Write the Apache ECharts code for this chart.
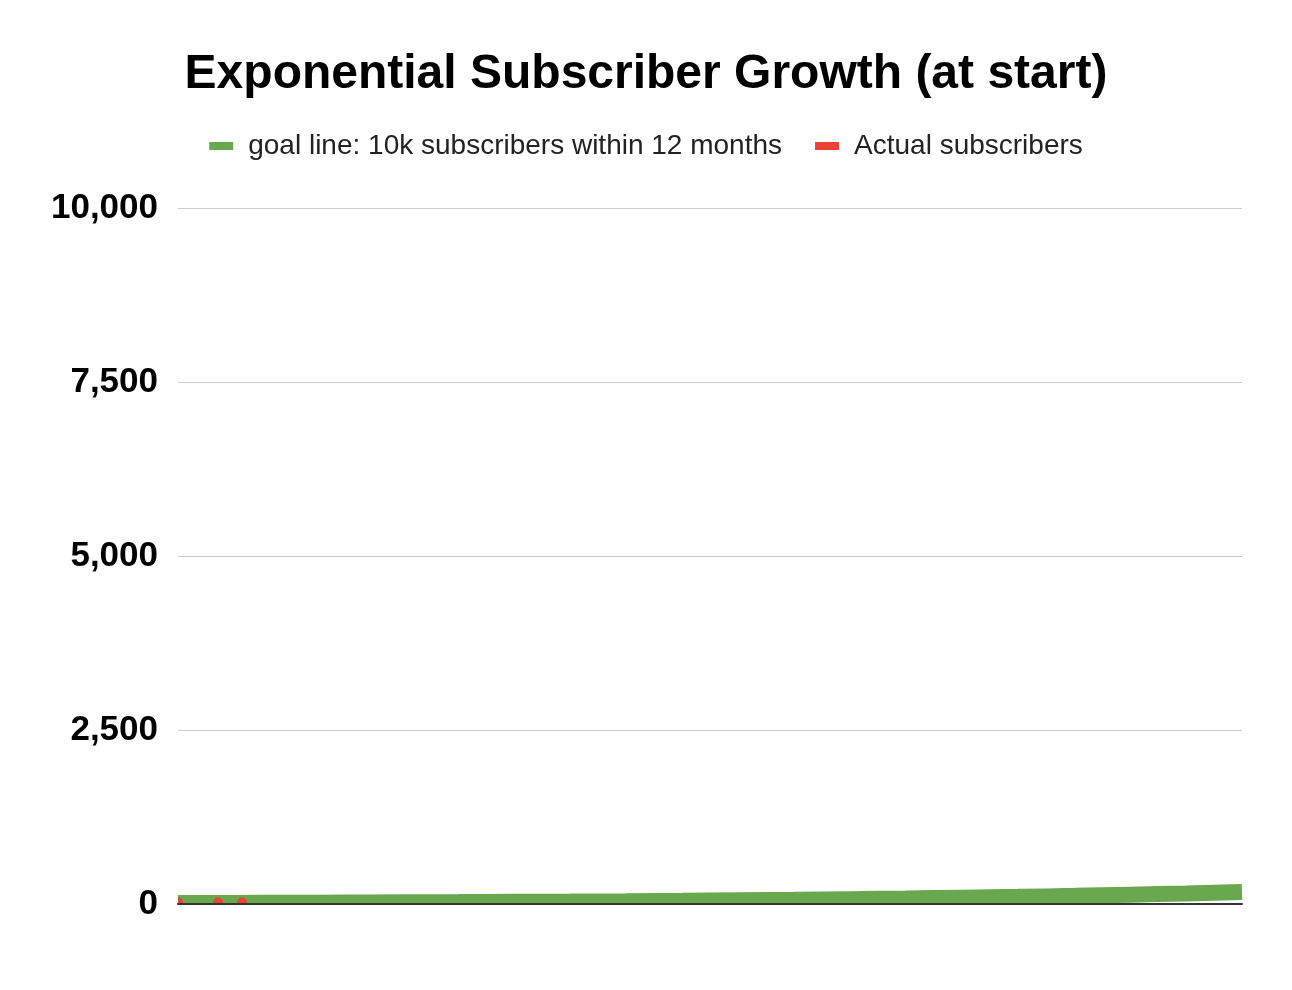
<!DOCTYPE html>
<html>
<head>
<meta charset="utf-8">
<script src="https://cdn.jsdelivr.net/npm/echarts@6/dist/echarts.min.js"></script>
<style>
html,body{margin:0;padding:0;background:#fff;}
#chart{width:1292px;height:990px;}
</style>
</head>
<body>
<div id="chart"></div>
<script>
// Day index since start
const goalDays = [0, 7, 14, 21, 28, 35, 42, 49, 56, 63, 70, 77, 84, 91, 98, 105, 112, 119, 126, 133];
// goal line: 10k subscribers within 12 months
const goalValues = [14, 16, 18, 21, 24, 27, 31, 35, 40, 46, 53, 60, 69, 79, 91, 103, 117, 134, 152, 173];
// Actual subscribers
const actualDays = [0, 5, 8];
const actualValues = [20, 20, 20];
const yTicks = { min: 0, max: 10000, interval: 2500 };

const FONT = "'Liberation Sans', Arial, sans-serif";
const GRID = { left: 178, right: 50, top: 208, bottom: 86 };

const chart = echarts.init(document.getElementById('chart'), null, { renderer: 'canvas' });
chart.setOption({
  animation: false,
  backgroundColor: '#ffffff',
  title: {
    text: 'Exponential Subscriber Growth (at start)',
    left: 'center',
    top: 46,
    textStyle: { fontFamily: FONT, fontSize: 48, fontWeight: 'bold', color: '#000000' }
  },
  legend: {
    top: 127,
    left: 'center',
    icon: 'rect',
    itemWidth: 24,
    itemHeight: 8,
    itemGap: 33,
    textStyle: { fontFamily: FONT, fontSize: 28, color: '#222222', padding: [0, 0, 0, 10] },
    data: ['goal line: 10k subscribers within 12 months', 'Actual subscribers']
  },
  grid: GRID,
  xAxis: {
    type: 'value',
    min: goalDays[0],
    max: goalDays[goalDays.length - 1],
    z: 101,
    axisLine: { show: true, onZero: true, lineStyle: { color: '#333333', width: 2 } },
    axisTick: { show: false },
    axisLabel: { show: false },
    splitLine: { show: false }
  },
  yAxis: {
    type: 'value',
    min: yTicks.min,
    max: yTicks.max,
    interval: yTicks.interval,
    axisLine: { show: false },
    axisTick: { show: false },
    axisLabel: {
      margin: 20,
      padding: [4, 0, 0, 0],
      fontFamily: FONT, fontSize: 35, fontWeight: 'bold', color: '#000000',
      formatter: v => v.toLocaleString('en-US')
    },
    splitLine: { lineStyle: { color: '#cccccc', width: 1 } }
  },
  graphic: [
    { type: 'rect', z: 100, silent: true,
      shape: { x: GRID.left - 12, y: 990 - GRID.bottom + 1, width: 1292 - GRID.left - GRID.right + 24, height: 30 },
      style: { fill: '#ffffff' } },
    { type: 'rect', z: 100, silent: true,
      shape: { x: GRID.left - 12, y: 990 - GRID.bottom - 20, width: 12, height: 40 },
      style: { fill: '#ffffff' } }
  ],
  series: [
    {
      name: 'goal line: 10k subscribers within 12 months',
      type: 'line',
      smooth: true,
      showSymbol: false,
      symbol: 'none',
      color: '#6aa84f',
      lineStyle: { width: 16, color: '#6aa84f', cap: 'butt' },
      data: goalDays.map((d, i) => [d, goalValues[i]]),
      z: 2
    },
    {
      name: 'Actual subscribers',
      type: 'line',
      symbol: 'circle',
      symbolSize: 10,
      showSymbol: true,
      color: '#ea4335',
      itemStyle: { color: '#ea4335' },
      lineStyle: { width: 0, opacity: 0 },
      data: actualDays.map((d, i) => [d, actualValues[i]]),
      z: 3
    }
  ]
});
</script>
</body>
</html>
